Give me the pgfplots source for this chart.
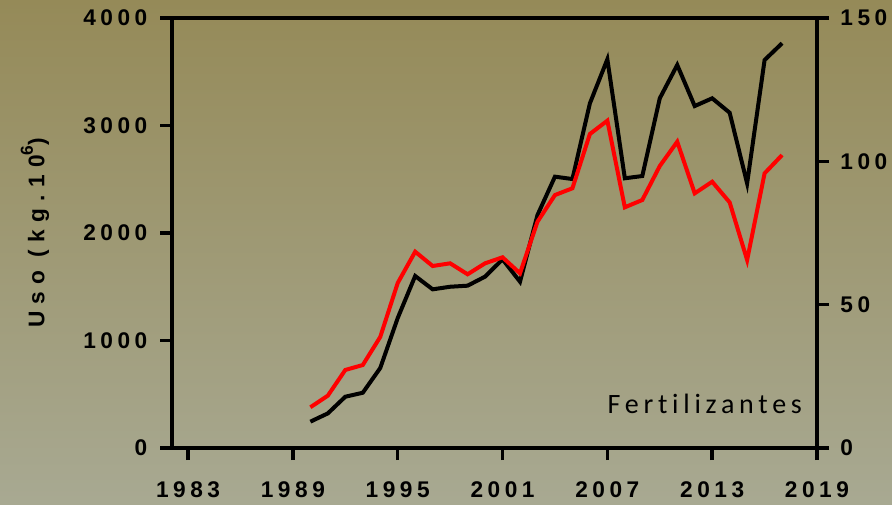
\documentclass[border=0pt]{standalone}
\usepackage{fontspec}
\setmainfont{Liberation Sans}
\newfontfamily\tickfont[LetterSpace=20]{Liberation Sans}
\newfontfamily\ylabfont[LetterSpace=32]{Liberation Sans}
\newfontfamily\labfont[LetterSpace=17, Ligatures={NoCommon,NoRequired}]{Carlito}
\usepackage{pgfplots}
\pgfplotsset{compat=1.18}
\definecolor{bgtop}{RGB}{149,138,88}
\definecolor{bgbot}{RGB}{168,169,146}
\begin{document}
\begin{tikzpicture}
\path[use as bounding box, top color=bgtop, bottom color=bgbot] (-129pt,-42pt) rectangle (540pt,336pt);
\begin{axis}[
  at={(0pt,0pt)}, anchor=south west,
  scale only axis, width=483.75pt, height=322.5pt,
  xmin=1982.08, xmax=2019, ymin=0, ymax=4000,
  xtick={1983,1989,1995,2001,2007,2013,2019},
  ytick={0,1000,2000,3000,4000},
  xtick pos=bottom, ytick pos=left,
  tick align=outside, major tick length=9pt,
  axis line style={line width=2.6pt},
  every tick/.style={line width=2.6pt, black},
  /pgf/number format/assume math mode=true,
  /pgf/number format/set thousands separator={},
  ticklabel style={font=\tickfont\bfseries\fontsize{17}{20}\selectfont},
  xticklabel style={yshift=-12.5pt},
  yticklabel style={xshift=-6pt},
  ylabel={\ylabfont\bfseries\fontsize{17}{20}\selectfont Uso (kg.10\raisebox{0.5em}{\fontsize{13}{15}\selectfont 6})},
  ylabel style={at={(axis description cs:-0.2124,0.5)}, anchor=center},
  clip=false,
]
\addplot[black, line width=3pt, line join=miter] coordinates {
(1990,245)(1991,322)(1992,477)(1993,514)(1994,744)(1995,1209)(1996,1600)(1997,1476)(1998,1500)(1999,1510)(2000,1594)(2001,1755)(2002,1547)(2003,2167)(2004,2524)(2005,2502)(2006,3206)(2007,3616)(2008,2509)(2009,2530)(2010,3253)(2011,3563)(2012,3181)(2013,3253)(2014,3119)(2015,2462)(2016,3609)(2017,3765)
};
\addplot[red, line width=3pt, line join=miter] coordinates {
(1990,379)(1991,487)(1992,726)(1993,772)(1994,1033)(1995,1535)(1996,1826)(1997,1693)(1998,1718)(1999,1616)(2000,1718)(2001,1774)(2002,1625)(2003,2105)(2004,2353)(2005,2416)(2006,2921)(2007,3045)(2008,2239)(2009,2307)(2010,2623)(2011,2849)(2012,2369)(2013,2477)(2014,2285)(2015,1749)(2016,2555)(2017,2725)
};
\node[anchor=base east, font=\labfont\fontsize{21}{24}\selectfont] at (rel axis cs:0.984,0.0814) {Fertilizantes};
\end{axis}
\begin{axis}[
  at={(0pt,0pt)}, anchor=south west,
  scale only axis, width=483.75pt, height=322.5pt,
  xmin=1982.08, xmax=2019, ymin=0, ymax=150,
  hide x axis, axis y line*=right,
  ytick={0,50,100,150},
  tick align=outside, major tick length=9pt,
  axis line style={line width=2.6pt, -},
  every tick/.style={line width=2.6pt, black},
  /pgf/number format/assume math mode=true,
  ticklabel style={font=\tickfont\bfseries\fontsize{17}{20}\selectfont},
  yticklabel style={xshift=5pt},
]
\end{axis}
\end{tikzpicture}
\end{document}
